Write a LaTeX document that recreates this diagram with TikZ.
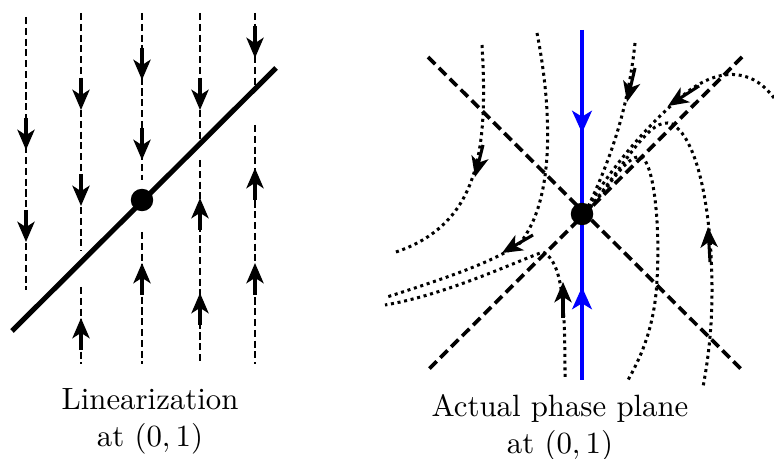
\documentclass[tikz,border=0pt]{standalone}
\usetikzlibrary{arrows.meta}
\tikzset{
  px/.style={x=0.3247pt,y=-0.3247pt},
  vdash/.style={line width=0.95pt,dash pattern=on 2.3pt off 1.2pt},
  ddash/.style={line width=1.2pt,dash pattern=on 3.3pt off 1.7pt},
  dotcurve/.style={line width=0.98pt,dash pattern=on 0.98pt off 1.2pt},
  arrseg/.style={solid,line width=1pt,-{Stealth[length=6.6pt,width=5.6pt,inset=1.8pt]}},
  barrseg/.style={solid,blue,line width=1.2pt,-{Stealth[length=7.2pt,width=6.4pt,inset=1.9pt]}},
  eqpt/.style={circle,fill=black,inner sep=0pt,minimum size=7.3pt},
  lbl/.style={align=center,font=\normalsize}
}
\begin{document}
\begin{tikzpicture}[px]
\useasboundingbox (0,0) rectangle (774,459);
% ---------- left panel ----------
\foreach \x/\a/\b in {26/17/290, 81/13/251, 81/287/364, 142/13/180, 142/232/364, 200/13/142, 200/160/364, 255/13/85, 255/125/364}
  \draw[vdash] (\x,\a) -- (\x,\b);
\foreach \x/\t in {26/150, 26/242, 81/110, 81/206, 142/80, 142/160, 200/110, 255/58}
  \draw[arrseg] (\x,\t-32) -- (\x,\t);
\foreach \x/\t in {81/318, 142/263, 200/198, 200/293, 255/168, 255/263}
  \draw[arrseg] (\x,\t+32) -- (\x,\t);
\coordinate (L1) at (12,331);
\coordinate (L2) at (276,68);
\draw[line width=1.65pt] (L1) -- (L2);
\node[eqpt] (P1) at (142,200) {};
\node[lbl] (T1) at (150,421) {Linearization\\at $(0,1)$};
% ---------- right panel ----------
\coordinate (D1a) at (428,57);
\coordinate (D1b) at (742,370);
\coordinate (D2a) at (742,57);
\coordinate (D2b) at (428,370);
\draw[ddash] (D1a) -- (D1b);
\draw[ddash] (D2a) -- (D2b);
% dotted trajectories
\draw[dotcurve] (482,45) .. controls (488,150) and (480,225) .. (393,253);
\draw[dotcurve] (537,33) .. controls (552,110) and (555,200) .. (520,243)
                .. controls (495,262) and (440,280) .. (387,297);
\draw[dotcurve] (565,377) .. controls (565,300) and (562,262) .. (543,252)
                .. controls (515,262) and (445,295) .. (385,305);
\draw[dotcurve] (635,43) .. controls (628,110) and (610,160) .. (588,207);
\draw[dotcurve] (774,98) .. controls (755,72) and (725,65) .. (690,90)
                .. controls (650,120) and (610,170) .. (588,207);
\draw[dotcurve] (590,207) .. controls (625,165) and (650,115) .. (672,124)
                .. controls (700,140) and (712,220) .. (712,290)
                .. controls (712,330) and (708,360) .. (703,387);
\draw[dotcurve] (590,208) .. controls (610,185) and (630,150) .. (643,158)
                .. controls (655,170) and (660,230) .. (657,280)
                .. controls (655,320) and (645,350) .. (628,380);
\draw[arrseg] (483,145) -- (475,177);
\draw[arrseg] (533,235) -- (502,253);
\draw[arrseg] (563,318) -- (563,282);
\draw[arrseg] (635,68) -- (627,102);
\draw[arrseg] (699,86) -- (668,106);
\draw[arrseg] (710,262) -- (708,227);
% blue invariant line
\coordinate (B1) at (582,30);
\coordinate (B2) at (582,380);
\draw[blue,line width=1.2pt] (B1) -- (B2);
\draw[barrseg] (582,95) -- (582,133);
\draw[barrseg] (582,325) -- (582,287);
\node[eqpt] (P2) at (582,214) {};
\node[lbl] (T2) at (560,428) {Actual phase plane\\at $(0,1)$};
\end{tikzpicture}
\end{document}
